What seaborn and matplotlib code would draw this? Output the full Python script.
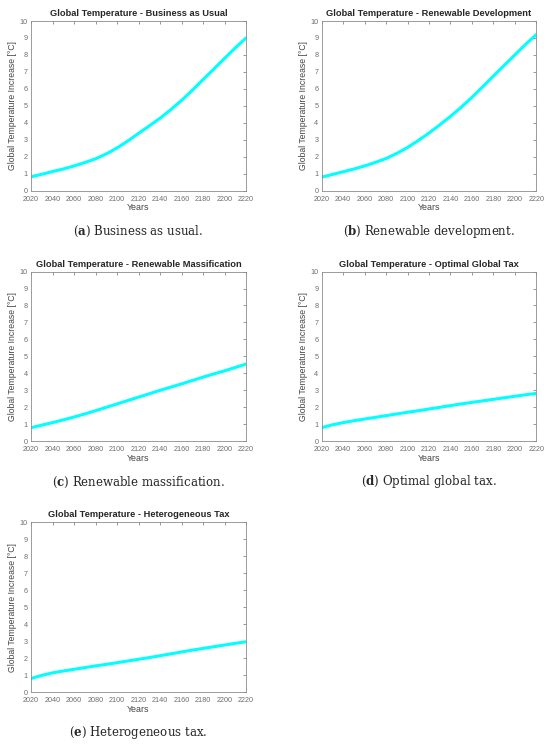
import numpy as np
import pandas as pd
import matplotlib
matplotlib.use("Agg")
import matplotlib.pyplot as plt
import seaborn as sns

# data (10-year steps)
years = list(range(2020, 2221, 10))
temp_bau = [0.82, 0.97, 1.13, 1.28, 1.46, 1.66, 1.88, 2.17, 2.52, 2.93, 3.38,
            3.82, 4.27, 4.78, 5.32, 5.92, 6.55, 7.17, 7.8, 8.42, 9.0]
temp_dev = [0.8, 0.96, 1.12, 1.28, 1.46, 1.67, 1.9, 2.2, 2.55, 2.96, 3.4,
            3.88, 4.38, 4.92, 5.5, 6.12, 6.75, 7.38, 8.0, 8.62, 9.2]
temp_mass = [0.8, 0.95, 1.1, 1.26, 1.43, 1.61, 1.8, 2.0, 2.2, 2.4, 2.6,
             2.8, 3.0, 3.19, 3.38, 3.58, 3.78, 3.97, 4.15, 4.35, 4.55]
temp_opt = [0.8, 0.97, 1.1, 1.21, 1.31, 1.41, 1.51, 1.61, 1.71, 1.8, 1.9,
            2.0, 2.1, 2.2, 2.29, 2.38, 2.47, 2.56, 2.65, 2.74, 2.82]
temp_het = [0.8, 0.98, 1.13, 1.24, 1.34, 1.44, 1.54, 1.63, 1.73, 1.83, 1.93,
            2.03, 2.14, 2.25, 2.36, 2.47, 2.57, 2.67, 2.77, 2.87, 2.96]

titles = [
    "Global Temperature - Business as Usual",
    "Global Temperature - Renewable Development",
    "Global Temperature - Renewable Massification",
    "Global Temperature - Optimal Global Tax",
    "Global Temperature - Heterogeneous Tax",
]
letters = ["a", "b", "c", "d", "e"]
captions = [
    "Business as usual.",
    "Renewable development.",
    "Renewable massification.",
    "Optimal global tax.",
    "Heterogeneous tax.",
]
series = [temp_bau, temp_dev, temp_mass, temp_opt, temp_het]

sns.set_style("white")
plt.rcParams["font.family"] = ["Liberation Sans", "DejaVu Sans"]
plt.rcParams["mathtext.fontset"] = "dejavuserif"

fig = plt.figure(figsize=(5.5, 7.45), dpi=100)

# axes rectangles [left, bottom, width, height] in figure fractions
positions = [
    [0.0564, 0.744, 0.391, 0.2278],
    [0.585, 0.744, 0.39, 0.2278],
    [0.0564, 0.4077, 0.391, 0.2278],
    [0.585, 0.4077, 0.39, 0.2278],
    [0.0564, 0.0711, 0.391, 0.2278],
]

for i, vals in enumerate(series):
    ax = fig.add_axes(positions[i])
    df = pd.DataFrame({"Years": years, "Temp": vals})
    sns.lineplot(data=df, x="Years", y="Temp", ax=ax, color="#00FFFF", linewidth=2.2)

    ax.set_xlim(2020, 2220)
    ax.set_ylim(0, 10)
    ax.set_xticks(np.arange(2020, 2221, 20))
    ax.set_yticks(np.arange(0, 11, 1))
    ax.tick_params(direction="in", length=2.5, width=0.5, colors="#6e6e6e",
                   labelsize=5.2, top=True, right=True)
    ax.tick_params(axis="x", pad=3.5)
    ax.tick_params(axis="y", pad=2.5)
    for side in ax.spines.values():
        side.set_color("#8c8c8c")
        side.set_linewidth(0.6)

    ax.set_title(titles[i], fontsize=6.7, fontweight="bold", pad=3.5)
    ax.set_xlabel("Years", fontsize=6.4, color="#444444", labelpad=0.5)
    ax.set_ylabel("Global Temperature Increase [°C]", fontsize=6.2,
                  color="#444444", labelpad=1.5)

    # caption below the panel
    ax.text(0.5, -0.24, r"($\mathbf{" + letters[i] + "}$) " + captions[i],
            transform=ax.transAxes, ha="center", va="center",
            fontsize=8.5, family=["DejaVu Serif"])

fig.savefig("out.png", dpi=100)
